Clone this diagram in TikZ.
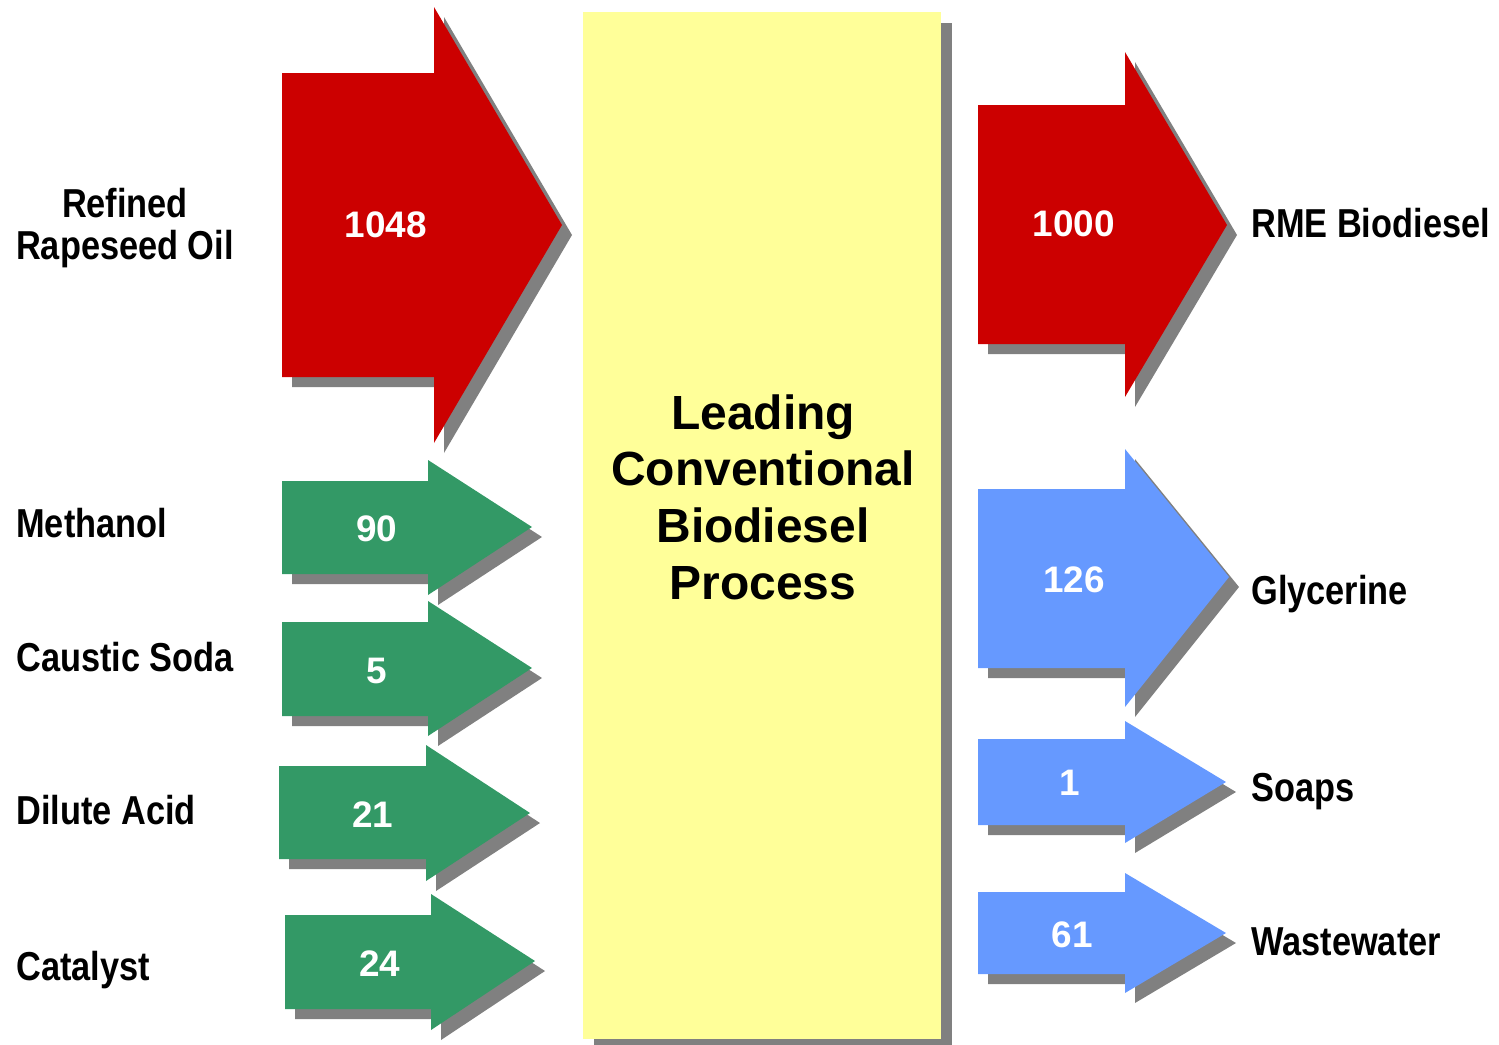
\documentclass[tikz,border=0pt]{standalone}
\usepackage{fontspec}
\newfontfamily\labelfont[FakeStretch=0.85]{Liberation Sans}
\newfontfamily\numfont{Liberation Sans}
\definecolor{arrred}{HTML}{CC0000}
\definecolor{arrgreen}{HTML}{339966}
\definecolor{arrblue}{HTML}{6699FF}
\definecolor{procyellow}{HTML}{FFFF99}
\definecolor{shadowgray}{HTML}{808080}
% #1 left, #2 body top, #3 body bottom, #4 head x, #5 head top, #6 head bottom, #7 tip x, #8 tip y, #9 colour
\newcommand\flowarrow[9]{%
  \fill[shadowgray, shift={(10,10)}] (#1,#2) -- (#4,#2) -- (#4,#5) -- (#7,#8) -- (#4,#6) -- (#4,#3) -- (#1,#3) -- cycle;
  \fill[#9] (#1,#2) -- (#4,#2) -- (#4,#5) -- (#7,#8) -- (#4,#6) -- (#4,#3) -- (#1,#3) -- cycle;}
\tikzset{
  lbl/.style={font=\labelfont\bfseries\fontsize{23}{24.4}\selectfont, inner sep=0pt, text=black},
  num/.style={font=\numfont\bfseries\fontsize{21}{25}\selectfont, inner sep=0pt, text=white},
  proc/.style={font=\numfont\bfseries\fontsize{27.3}{32.3}\selectfont, inner sep=0pt, align=center, text=black}
}
\begin{document}
\begin{tikzpicture}[x=0.02cm, y=-0.02cm]
\useasboundingbox (0,0) rectangle (1499,1045);
% process box
\fill[shadowgray] (594,23) rectangle (952,1045);
\fill[procyellow] (583,12) rectangle (941,1039);
\node[proc] (process) at (763,497) {Leading\\Conventional\\Biodiesel\\Process};
% input arrows
\flowarrow{282}{73}{377}{434}{7}{443}{562}{225}{arrred}
\flowarrow{282}{481}{574}{428}{460}{595}{532}{527}{arrgreen}
\flowarrow{282}{622}{716}{428}{601}{736}{532}{668}{arrgreen}
\flowarrow{279}{766}{859}{426}{745}{881}{530}{813}{arrgreen}
\flowarrow{285}{915}{1009}{431}{894}{1030}{535}{961}{arrgreen}
% output arrows
\flowarrow{978}{105}{344}{1125}{52}{397}{1227}{225}{arrred}
\flowarrow{978}{489}{668}{1125}{449}{707}{1229}{577}{arrblue}
\flowarrow{978}{739}{825}{1125}{721}{843}{1226}{782}{arrblue}
\flowarrow{978}{892}{974}{1125}{873}{993}{1226}{933}{arrblue}
% numbers
\node[num] (n1048) at (386,225) {1048};
\node[num] (n90) at (377,529) {90};
\node[num] (n5) at (377,671) {5};
\node[num] (n21) at (373,815) {21};
\node[num] (n24) at (380,964) {24};
\node[num] (n1000) at (1074,224) {1000};
\node[num] (n126) at (1074,580) {126};
\node[num] (n1) at (1070,783) {1};
\node[num] (n61) at (1072,935) {61};
% input labels
\node[lbl, align=center] (oil) at (125,228) {Refined\\Rapeseed Oil};
\node[lbl, anchor=base west] (methanol) at (16,537) {Methanol};
\node[lbl, anchor=base west] (soda) at (16,671) {Caustic Soda};
\node[lbl, anchor=base west] (acid) at (16,824) {Dilute Acid};
\node[lbl, anchor=base west] (catalyst) at (16,980) {Catalyst};
% output labels
\node[lbl, anchor=base west] (rme) at (1251,237) {RME Biodiesel};
\node[lbl, anchor=base west] (glycerine) at (1251,604) {Glycerine};
\node[lbl, anchor=base west] (soaps) at (1251,801) {Soaps};
\node[lbl, anchor=base west] (waste) at (1251,955) {Wastewater};
\end{tikzpicture}
\end{document}
